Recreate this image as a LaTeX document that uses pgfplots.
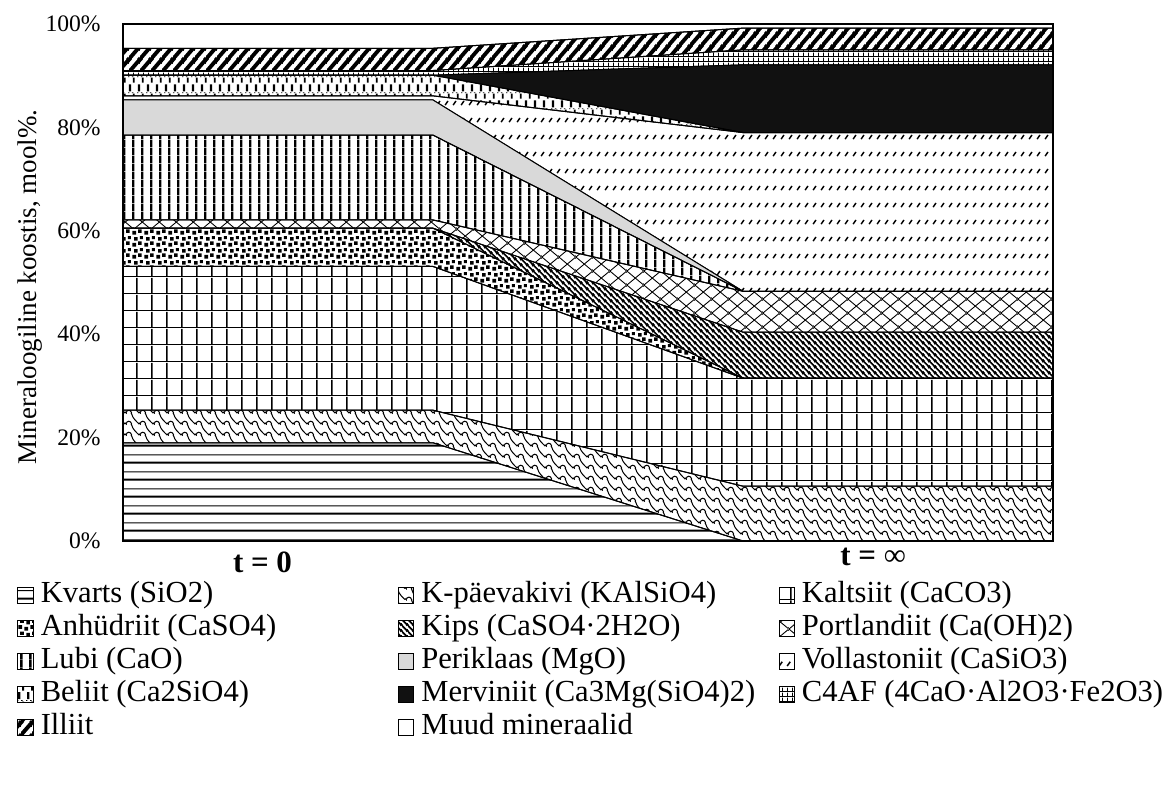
\documentclass[border=0pt]{standalone}
\usepackage{fontspec}
\setmainfont{Liberation Serif}
\usepackage{pgfplots}
\pgfplotsset{compat=1.18}
\usepackage{pgfplotstable}
\usetikzlibrary{patterns.meta}

% ---------- fill patterns, one per mineral ----------
\tikzdeclarepattern{name=pKvarts, type=colored,
  bottom left={(0pt,0pt)}, top right={(4pt,8.5pt)}, tile size={(4pt,8.5pt)},
  code={\fill[black] (-0.1pt,0.2pt) rectangle (4.1pt,1.25pt);
        \fill[black] (-0.1pt,4.5pt) rectangle (4.1pt,5.05pt);}}
% shingle: small humps joined by down-right slopes, drawn with its neighbours so it tiles
\tikzdeclarepattern{name=pKpaev, type=colored,
  bottom left={(0pt,0pt)}, top right={(7pt,5.5pt)}, tile size={(7pt,5.5pt)},
  code={\foreach \dx in {-7,0,7}{\foreach \dy in {-5.5,0,5.5}{
          \draw[black,line width=0.55pt,shift={(\dx pt,\dy pt)}]
            (0pt,0pt) .. controls (0.4pt,2pt) and (2.6pt,2pt) .. (3pt,0pt)
            .. controls (3.6pt,-2.5pt) and (5.5pt,-4pt) .. (7pt,-5.5pt);}}}}
\tikzdeclarepattern{name=pKaltsiit, type=colored,
  bottom left={(0pt,0pt)}, top right={(7.6pt,8.5pt)}, tile size={(7.6pt,8.5pt)},
  code={\fill[black] (0pt,0pt) rectangle (7.6pt,0.45pt);
        \fill[black] (0pt,0pt) rectangle (0.9pt,8.5pt);}}
\tikzdeclarepattern{name=pAnhud, type=colored,
  bottom left={(0pt,0pt)}, top right={(6pt,6pt)}, tile size={(6pt,6pt)},
  code={\fill[black] (0.2pt,0.2pt) rectangle ++(2pt,2pt);
        \fill[black] (3.3pt,1.1pt) rectangle ++(1.9pt,1.9pt);
        \fill[black] (1.2pt,3.4pt) rectangle ++(1.9pt,1.9pt);
        \fill[black] (4.2pt,4.2pt) rectangle ++(1.7pt,1.7pt);}}
\tikzdeclarepattern{name=pKips, type=colored,
  bottom left={(0pt,0pt)}, top right={(3pt,3pt)}, tile size={(3pt,3pt)},
  code={\draw[black,line width=0.95pt] (-0.5pt,3.5pt) -- (3.5pt,-0.5pt);
        \draw[black,line width=0.95pt] (-0.5pt,0.5pt) -- (0.5pt,-0.5pt);
        \draw[black,line width=0.95pt] (2.5pt,3.5pt) -- (3.5pt,2.5pt);}}
\tikzdeclarepattern{name=pPortl, type=colored,
  bottom left={(0pt,0pt)}, top right={(8.4pt,7.2pt)}, tile size={(8.4pt,7.2pt)},
  code={\draw[black,line width=0.45pt] (-1pt,-0.857pt) -- (9.4pt,8.057pt);
        \draw[black,line width=0.45pt] (-1pt,8.057pt) -- (9.4pt,-0.857pt);}}
\tikzdeclarepattern{name=pLubi, type=colored,
  bottom left={(0pt,0pt)}, top right={(4.3pt,4pt)}, tile size={(4.3pt,4pt)},
  code={\fill[black] (1.6pt,-0.1pt) rectangle (2.8pt,4.1pt);}}
\tikzdeclarepattern{name=pVollast, type=colored,
  bottom left={(0pt,0pt)}, top right={(3.85pt,8.5pt)}, tile size={(3.85pt,8.5pt)},
  code={\draw[black,line width=0.75pt] (1.1pt,1.0pt) -- (2.6pt,3.2pt);}}
\tikzdeclarepattern{name=pBeliit, type=colored,
  bottom left={(0pt,0pt)}, top right={(4.25pt,8pt)}, tile size={(4.25pt,8pt)},
  code={\fill[black] (0.5pt,4.0pt) rectangle (1.7pt,7.7pt);
        \fill[black] (2.6pt,0.2pt) rectangle (3.5pt,2.8pt);
        \fill[black] (0pt,3.1pt) rectangle (0.7pt,3.5pt);
        \fill[black] (2.1pt,3.1pt) rectangle (2.8pt,3.5pt);}}
\tikzdeclarepattern{name=pCfaf, type=colored,
  bottom left={(0pt,0pt)}, top right={(2.7pt,2.5pt)}, tile size={(2.7pt,2.5pt)},
  code={\fill[black] (0pt,0pt) rectangle (2.7pt,0.45pt);
        \fill[black] (0pt,0pt) rectangle (0.45pt,2.5pt);}}
\tikzdeclarepattern{name=pIlliit, type=colored,
  bottom left={(0pt,0pt)}, top right={(5.4pt,6.5pt)}, tile size={(5.4pt,6.5pt)},
  code={\draw[black,line width=2pt] (-5.4pt,-6.5pt) -- (10.8pt,13pt);
        \draw[black,line width=2pt] (-5.4pt,0pt) -- (5.4pt,13pt);
        \draw[black,line width=2pt] (0pt,-6.5pt) -- (10.8pt,6.5pt);}}

\definecolor{periklaas}{RGB}{217,217,217}
\definecolor{merviniit}{RGB}{17,17,17}

% ---------- composition, mol% (x = 0,1: t = 0; x = 2,3: t = infinity) ----------
\pgfplotstableread{
x kvarts kpaev kaltsiit anhud kips portl lubi perikl vollast beliit mervin cfaf illiit muud
0 19.0 6.3 27.8 7.4 0.0 1.6 16.4 6.8 0.8 4.0 0.0 0.9 4.3 4.7
1 19.0 6.3 27.8 7.4 0.0 1.6 16.4 6.8 0.8 4.0 0.0 0.9 4.3 4.7
2 0.0 10.6 20.9 0.0 8.9 7.9 0.0 0.0 30.7 0.0 13.1 2.9 4.2 0.8
3 0.0 10.6 20.9 0.0 8.9 7.9 0.0 0.0 30.7 0.0 13.1 2.9 4.2 0.8
}\mineral

\newcommand{\entry}[1]{\makebox[178.6pt][l]{#1}}

\begin{document}
\begin{tikzpicture}
\path[use as bounding box] (0pt,0pt) rectangle (584pt,393.5pt);
\begin{axis}[
  at={(61.5pt,123pt)}, anchor=south west,
  scale only axis, width=465pt, height=258.5pt,
  xmin=0, xmax=3, ymin=0, ymax=100,
  stack plots=y,
  axis on top,
  axis line style={black, line width=0.6pt},
  major tick length=0pt,
  xtick={0.45,2.42},
  xticklabels={{\textbf{t = 0}},{\raisebox{3.5pt}{\textbf{t =} ∞}}},
  xticklabel style={anchor=base, inner sep=0pt, yshift=-16pt,
    font=\fontsize{15.5}{17}\selectfont},
  ytick={0,20,40,60,80,100},
  yticklabels={0\%,20\%,40\%,60\%,80\%,100\%},
  yticklabel style={anchor=east, inner sep=0pt, xshift=-11pt,
    font=\fontsize{11.8}{13}\selectfont},
  ylabel={Mineraloogiline koostis, mool\%.},
  ylabel style={at={(axis description cs:-0.0935,0.491)}, anchor=base,
    font=\fontsize{13.5}{15}\selectfont},
  legend image code/.code={\draw[#1,line width=0.5pt] (0pt,-3.8pt) rectangle (7.6pt,3.8pt);},
  legend columns=3,
  legend cell align=left,
  legend style={at={(axis description cs:-0.114,-0.0760)}, anchor=north west,
    draw=none, fill=none, inner sep=0pt,
    font=\fontsize{15.3}{17}\selectfont,
    nodes={inner sep=0pt, text height=11pt, text depth=3.8pt},
    row sep=1.7pt,
    /tikz/every odd column/.append style={column sep=3.6pt},
    /tikz/every even column/.append style={column sep=0pt}},
]
\addplot[draw=black, line width=0.5pt, pattern=pKvarts] table[x=x,y=kvarts]{\mineral} \closedcycle;
\addlegendentry{\entry{Kvarts (SiO2)}}
\addplot[draw=black, line width=0.5pt, pattern=pKpaev] table[x=x,y=kpaev]{\mineral} \closedcycle;
\addlegendentry{\entry{K-päevakivi (KAlSiO4)}}
\addplot[draw=black, line width=0.5pt, pattern=pKaltsiit] table[x=x,y=kaltsiit]{\mineral} \closedcycle;
\addlegendentry{\entry{Kaltsiit (CaCO3)}}
\addplot[draw=black, line width=0.5pt, pattern=pAnhud] table[x=x,y=anhud]{\mineral} \closedcycle;
\addlegendentry{\entry{Anhüdriit (CaSO4)}}
\addplot[draw=black, line width=0.5pt, pattern=pKips] table[x=x,y=kips]{\mineral} \closedcycle;
\addlegendentry{\entry{Kips (CaSO4·2H2O)}}
\addplot[draw=black, line width=0.5pt, pattern=pPortl] table[x=x,y=portl]{\mineral} \closedcycle;
\addlegendentry{\entry{Portlandiit (Ca(OH)2)}}
\addplot[draw=black, line width=0.5pt, pattern=pLubi] table[x=x,y=lubi]{\mineral} \closedcycle;
\addlegendentry{\entry{Lubi (CaO)}}
\addplot[draw=black, line width=0.5pt, fill=periklaas] table[x=x,y=perikl]{\mineral} \closedcycle;
\addlegendentry{\entry{Periklaas (MgO)}}
\addplot[draw=black, line width=0.5pt, pattern=pVollast] table[x=x,y=vollast]{\mineral} \closedcycle;
\addlegendentry{\entry{Vollastoniit (CaSiO3)}}
\addplot[draw=black, line width=0.5pt, pattern=pBeliit] table[x=x,y=beliit]{\mineral} \closedcycle;
\addlegendentry{\entry{Beliit (Ca2SiO4)}}
\addplot[draw=black, line width=0.5pt, fill=merviniit] table[x=x,y=mervin]{\mineral} \closedcycle;
\addlegendentry{\entry{Merviniit (Ca3Mg(SiO4)2)}}
\addplot[draw=black, line width=0.5pt, pattern=pCfaf] table[x=x,y=cfaf]{\mineral} \closedcycle;
\addlegendentry{\entry{C4AF (4CaO·Al2O3·Fe2O3)}}
\addplot[draw=black, line width=0.5pt, pattern=pIlliit] table[x=x,y=illiit]{\mineral} \closedcycle;
\addlegendentry{\entry{Illiit}}
\addplot[draw=black, line width=0.5pt, fill=white] table[x=x,y=muud]{\mineral} \closedcycle;
\addlegendentry{\entry{Muud mineraalid}}
\end{axis}
\end{tikzpicture}
\end{document}
